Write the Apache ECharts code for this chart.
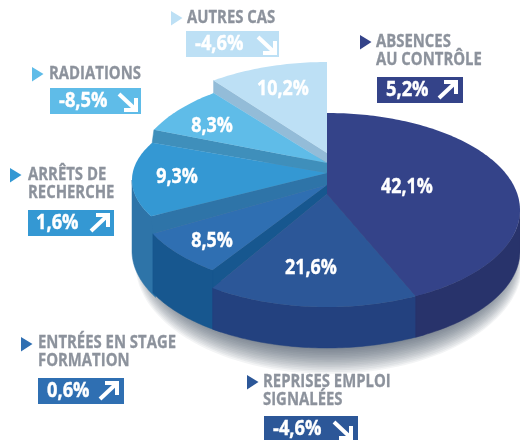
<!DOCTYPE html>
<html>
<head>
<meta charset="utf-8">
<style>html,body{margin:0;padding:0;background:#fff}#c{width:520px;height:440px}</style>
<script src="https://cdn.jsdelivr.net/npm/echarts@6/dist/echarts.min.js"></script>
</head>
<body>
<div id="c"></div>
<script>
// Printed values
const sliceNames = ['42,1%', '21,6%', '8,5%', '9,3%', '8,3%', '10,2%'];
const categories = [
  ['ABSENCES', 'AU CONTRÔLE'],
  ['REPRISES EMPLOI', 'SIGNALÉES'],
  ['ENTRÉES EN STAGE', 'FORMATION'],
  ['ARRÊTS DE', 'RECHERCHE'],
  ['RADIATIONS'],
  ['AUTRES CAS']
];
const changes = [5.2, -4.6, 0.6, 1.6, -8.5, -4.6];
const changeLabels = ['5,2%', '-4,6%', '0,6%', '1,6%', '-8,5%', '-4,6%'];
// The share of the ellipse each slice occupies as drawn in the picture (the artwork's
// slices are not proportional to their printed percentages).
const drawnShares = [42.4, 17.7, 7.8, 14.4, 7.7, 10.0];

// Layout and style
const topColors = ['#344389', '#2c5798', '#2f6fb2', '#3498d3', '#5fbce8', '#bde0f5'];
const wallColors = ['#28336b', '#23417f', '#17578f', '#2e74a8', '#3f8fbb', '#93bcd8'];
const CX = 327, RX = 193, BOTTOM_CY = 251, BOTTOM_RY = 97;
const geom = [
  {cy: 210, ry: 97, rx: 193, apex: 194, wall: [90, 180]},
  {cy: 210, ry: 97, rx: 193, apex: 194, wall: [0, 360]},
  {cy: 192, ry: 97, rx: 193, apex: 185, wall: [0, 360]},
  {cy: 180, ry: 84, rx: 195, apex: 173, wall: [0, 270]},
  {cy: 174, ry: 100, rx: 193, apex: 163, wall: null},
  {cy: 159, ry: 97, rx: 193, apex: 153, wall: null}
];
const sliceLabelPos = [[407, 187], [311, 268], [212, 241], [177, 177], [212, 126], [283, 89]];
const callouts = [
  {tri: [360, 35], x: 376, y: 42, box: [377, 77, 86, 26], vx: 386, ax: 438},
  {tri: [247, 375], x: 263, y: 382, box: [264, 416, 94, 26], vx: 273, ax: 333},
  {tri: [21, 337], x: 38, y: 343, box: [38, 378, 86, 26], vx: 47, ax: 99},
  {tri: [10, 168], x: 28, y: 175, box: [28, 210, 86, 26], vx: 36, ax: 90},
  {tri: [32, 67], x: 49, y: 74, box: [50, 88, 91, 26], vx: 59, ax: 118},
  {tri: [171, 11], x: 187, y: 18, box: [186, 31, 93, 26], vx: 195, ax: 257}
];
const FONT = '"Open Sans", sans-serif';
const GREY = '#8c929c';

const starts = [];
drawnShares.reduce((acc, v, i) => { starts[i] = acc; return acc + v; }, 0);
const total = drawnShares.reduce((a, b) => a + b, 0);
const rad = d => d * Math.PI / 180;
const pt = (g, deg) => [CX + g.rx * Math.sin(rad(deg)), g.cy - g.ry * Math.cos(rad(deg))];
const bottomPt = (g, deg) => [CX + g.rx * Math.sin(rad(deg)), BOTTOM_CY - BOTTOM_RY * Math.cos(rad(deg))];

function arc(fn, a, b) {
  const pts = [], n = Math.max(2, Math.ceil(Math.abs(b - a)));
  for (let k = 0; k <= n; k++) pts.push(fn(a + (b - a) * k / n));
  return pts;
}

function renderSlice(params, api) {
  const i = api.value(0);
  const a0 = api.value(1) / total * 360;
  const a1 = (api.value(1) + api.value(2)) / total * 360;
  const g = geom[i];
  const children = [];
  // outer wall (runs slightly under the neighbouring slice so no gap shows)
  if (g.wall) {
    const wa = Math.max(a0 - 3, g.wall[0]), wb = Math.min(a1, g.wall[1]);
    if (wb > wa) {
      const upper = arc(d => pt(g, d), wa, wb);
      const lower = arc(d => bottomPt(g, d), wb, wa);
      children.push({type: 'polygon', shape: {points: upper.concat(lower)},
        style: {fill: wallColors[i], stroke: wallColors[i], lineWidth: 0.5}});
    }
  }
  // radial wall down to the next step
  if (i > 0) {
    const n = geom[i - 1];
    children.push({type: 'polygon',
      shape: {points: [[CX, g.apex], pt(g, a0), pt(n, a0), [CX, n.apex]]},
      style: {fill: wallColors[i], stroke: wallColors[i], lineWidth: 0.5}});
  }
  // top face
  children.push({type: 'polygon',
    shape: {points: [[CX, g.apex]].concat(arc(d => pt(g, d), a0, a1))},
    style: {fill: topColors[i]}});
  children.push({type: 'text', x: sliceLabelPos[i][0], y: sliceLabelPos[i][1], scaleX: 0.85, z2: 10,
    style: {text: sliceNames[i], font: 'bold 21px ' + FONT, fill: '#fff', textAlign: 'center', textVerticalAlign: 'middle', stroke: '#fff', lineWidth: 0.4}});
  return {type: 'group', children};
}

// Soft shadow under the pie: concentric translucent ellipses, widest first
const graphics = [];
for (let k = 14; k >= 0; k--) {
  graphics.push({
    type: 'ellipse', z: 0, silent: true,
    shape: {cx: CX + 2, cy: BOTTOM_CY + 4 + k * 0.6, rx: RX - 12 + k * 0.9, ry: BOTTOM_RY - 2 + k * 1.1},
    style: {fill: 'rgba(50,60,80,0.06)'}
  });
}

callouts.forEach((c, i) => {
  const col = topColors[i];
  graphics.push({type: 'polygon', z: 5, shape: {points: [[c.tri[0], c.tri[1]], [c.tri[0] + 11.5, c.tri[1] + 7], [c.tri[0], c.tri[1] + 14.5]]}, style: {fill: col}});
  categories[i].forEach((line, k) => {
    graphics.push({type: 'text', z: 5, x: c.x, y: c.y + k * 18.5, scaleX: 0.85,
      style: {text: line, font: 'bold 17.5px ' + FONT, fill: GREY, textAlign: 'left', textVerticalAlign: 'middle', stroke: GREY, lineWidth: 0.3}});
  });
  const b = c.box;
  graphics.push({type: 'rect', z: 5, shape: {x: b[0], y: b[1], width: b[2], height: b[3]}, style: {fill: col}});
  graphics.push({type: 'text', z: 6, x: c.vx, y: b[1] + 13, scaleX: 0.87,
    style: {text: changeLabels[i], font: 'bold 21px ' + FONT, fill: '#fff', textAlign: 'left', textVerticalAlign: 'middle', stroke: '#fff', lineWidth: 0.4}});
  const x0 = c.ax, x1 = c.ax + 18, up = changes[i] > 0;
  const yTop = b[1] + 5, yBot = b[1] + 22;
  const shaft = up ? [[x0 + 1, yBot - 1], [x1 - 1, yTop + 1]] : [[x0 + 1, yTop + 1], [x1 - 1, yBot - 1]];
  const head = up ? [[x1 - 12, yTop], [x1, yTop], [x1, yTop + 12]] : [[x1 - 12, yBot], [x1, yBot], [x1, yBot - 12]];
  const ls = {stroke: '#fff', lineWidth: 4, fill: 'none', lineJoin: 'miter', lineCap: 'butt'};
  graphics.push({type: 'polyline', z: 6, shape: {points: shaft}, style: ls});
  graphics.push({type: 'polyline', z: 6, shape: {points: head}, style: ls});
});

const chart = echarts.init(document.getElementById('c'), null, {renderer: 'canvas', width: 520, height: 440});
chart.setOption({
  animation: false,
  backgroundColor: '#fff',
  graphic: {elements: graphics},
  series: [{
    type: 'custom',
    coordinateSystem: 'none',
    silent: true,
    z: 2,
    clip: false,
    renderItem: renderSlice,
    encode: {},
    data: drawnShares.map((v, i) => [i, starts[i], v]).reverse()
  }]
});
</script>
</body>
</html>
